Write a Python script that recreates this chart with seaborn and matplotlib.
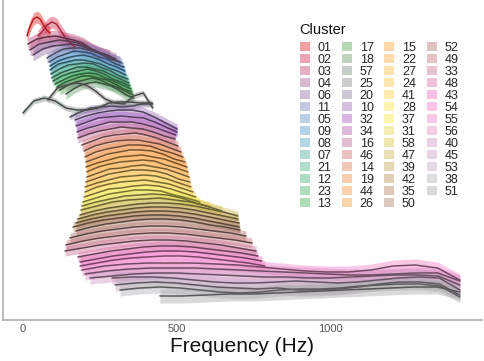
import numpy as np
import pandas as pd
import matplotlib
matplotlib.use("Agg")
import matplotlib.pyplot as plt
import matplotlib.colors as mcolors
import seaborn as sns
from matplotlib.patches import Patch

clusters = ['01', '02', '03', '04', '06', '11', '05', '09', '08', '07', '21', '12', '23', '13',
            '17', '18', '57', '25', '20', '10', '32', '34', '16', '46', '14', '19', '44', '26',
            '15', '22', '27', '24', '41', '28', '37', '31', '58', '47', '39', '42', '35', '50',
            '52', '49', '33', '48', '43', '54', '55', '56', '40', '45', '53', '38', '51']

colors = ['#e41a1c', '#d42a4a', '#c04070', '#a65a8e', '#9068a4', '#7a7cb8', '#5f8ec8', '#4a98d0',
          '#4aa0c0', '#48aa9c', '#45ae84', '#42b070', '#40b060', '#42ae52', '#50a650', '#62986a',
          '#7a8a7a', '#888888', '#8c80a0', '#9668b4', '#a052c0', '#ac58b0', '#bc6090', '#d06c70',
          '#e07a56', '#ec8844', '#f6943a', '#fa9c30', '#fca43a', '#fcae42', '#fcba48', '#fcc444',
          '#fcd244', '#fce048', '#f8ee40', '#e4da48', '#d8c848', '#ccb44c', '#c0a050', '#b89054',
          '#b0825c', '#a87a64', '#b0726a', '#c07078', '#cc6e94', '#dc6ca8', '#ea6cbc', '#f878cc',
          '#f080c6', '#e088c0', '#d092c2', '#c89ac0', '#bca4bc', '#b0b0b6', '#a6a6a6']

# frequency range of each cluster (Hz)
f_start = [13, 49, 16, 23, 33, 78, 85, 88, 88, 91, 94, 98, 104, 111,
           120, 140, 0, 81, 153, 169, 173, 176, 179, 192, 199, 202, 205, 205,
           208, 208, 205, 202, 202, 199, 195, 192, 189, 186, 179, 173, 163, 173,
           153, 140, 137, 179, 186, 186, 192, 202, 218, 290, 300, 316, 446]
f_end = [88, 169, 283, 303, 316, 322, 329, 332, 335, 342, 345, 348, 352, 355,
         358, 361, 420, 423, 423, 502, 502, 498, 495, 505, 515, 521, 528, 534,
         537, 541, 544, 547, 554, 563, 576, 609, 648, 700, 700, 704, 704, 707,
         726, 746, 759, 765, 778, 788, 1423, 1423, 1423, 1423, 1423, 1423, 1423]
spread = [6, 6, 6, 6, 6, 5, 5, 5, 5, 5, 5, 5, 5, 5,
          5, 5, 3, 3, 3, 5, 5, 5, 5, 5, 5, 5, 5, 5,
          5, 5, 5, 5, 5, 5, 5, 5, 5, 5, 5, 5, 5, 5,
          5, 5, 5, 5, 5, 5, 6, 6, 6, 6, 6, 6, 7]

# mean level (stacked, arbitrary units) at evenly spaced frequencies
amp_01 = [284, 294, 301, 303, 301, 295, 290, 287]
amp_02 = [284, 289, 295, 298, 296, 289, 282, 277, 273]
amp_03 = [276, 281, 283, 284, 282, 280, 277, 271, 267, 264]
amp_04 = [270, 276, 278, 280, 279, 277, 273, 268, 265, 261]
amp_06 = [265, 271, 274, 275, 276, 274, 270, 266, 261, 258]
amp_11 = [262, 267, 271, 272, 272, 270, 268, 264, 261, 257]
amp_05 = [258, 263, 266, 269, 268, 267, 263, 261, 256, 253]
amp_09 = [254, 259, 262, 264, 265, 263, 260, 256, 253, 249]
amp_08 = [250, 256, 258, 260, 260, 258, 256, 252, 249, 245]
amp_07 = [246, 251, 255, 256, 257, 256, 252, 249, 244, 241]
amp_21 = [242, 247, 250, 253, 253, 251, 249, 245, 241, 237]
amp_12 = [239, 244, 247, 249, 251, 249, 246, 241, 238, 234]
amp_23 = [236, 240, 244, 246, 247, 246, 242, 239, 235, 231]
amp_13 = [233, 238, 241, 244, 244, 242, 240, 236, 231, 228]
amp_17 = [230, 235, 238, 240, 242, 240, 236, 233, 229, 225]
amp_18 = [226, 231, 235, 237, 238, 236, 234, 230, 225, 222]
amp_57 = [207, 219, 222, 219, 212, 210, 210, 212, 217, 218, 218, 217, 217]
amp_25 = [220, 232, 235, 237, 235, 229, 221, 217, 216, 224, 227, 212]
amp_20 = [203, 208, 212, 213, 214, 213, 214, 216, 216]
amp_10 = [200, 204, 207, 209, 210, 210, 208, 203, 197, 191]
amp_32 = [194, 198, 202, 203, 204, 203, 202, 198, 193, 188]
amp_34 = [188, 192, 195, 198, 198, 198, 196, 193, 189, 185]
amp_16 = [182, 186, 189, 191, 193, 192, 191, 188, 184, 181]
amp_46 = [175, 179, 183, 185, 186, 187, 185, 182, 178, 174]
amp_14 = [169, 174, 177, 179, 180, 180, 178, 176, 172, 168]
amp_19 = [163, 168, 171, 173, 175, 175, 174, 170, 167, 163]
amp_44 = [158, 162, 166, 168, 170, 170, 169, 166, 161, 158]
amp_26 = [153, 157, 160, 163, 164, 165, 163, 161, 157, 153]
amp_15 = [148, 153, 156, 158, 159, 160, 159, 155, 152, 148]
amp_22 = [143, 147, 151, 152, 154, 155, 153, 151, 147, 143]
amp_27 = [138, 142, 146, 148, 150, 150, 149, 146, 141, 138]
amp_24 = [133, 137, 140, 143, 144, 145, 144, 141, 137, 133]
amp_41 = [128, 133, 136, 138, 139, 140, 138, 136, 132, 128]
amp_28 = [123, 127, 131, 132, 134, 135, 134, 131, 127, 123]
amp_37 = [118, 122, 126, 128, 130, 130, 129, 125, 122, 118]
amp_31 = [114, 118, 121, 124, 125, 126, 125, 122, 117, 113]
amp_58 = [110, 114, 118, 120, 121, 122, 120, 118, 114, 109]
amp_47 = [105, 109, 112, 114, 116, 117, 117, 116, 114, 111, 108, 104]
amp_39 = [101, 105, 108, 110, 112, 113, 113, 112, 110, 107, 104, 101]
amp_42 = [97, 101, 104, 106, 108, 109, 109, 108, 106, 103, 100, 97]
amp_35 = [93, 97, 100, 102, 104, 105, 105, 104, 102, 99, 96, 93]
amp_50 = [89, 93, 96, 98, 100, 101, 101, 100, 98, 95, 93, 90]
amp_52 = [82, 86, 89, 91, 93, 94, 94, 93, 91, 89, 87, 84]
amp_49 = [75, 79, 82, 84, 86, 87, 87, 86, 84, 82, 80, 77]
amp_33 = [69, 72, 75, 77, 79, 80, 80, 79, 77, 75, 72, 69]
amp_48 = [63, 66, 69, 71, 73, 74, 74, 73, 71, 69, 67, 64]
amp_43 = [58, 61, 64, 66, 68, 69, 69, 68, 66, 64, 62, 59]
amp_54 = [54, 57, 60, 62, 63, 64, 64, 63, 61, 59, 57, 54]
amp_55 = [50, 54, 56, 57, 57, 57, 56, 55, 53, 51, 49, 48, 48, 50, 54, 55, 52, 40]
amp_56 = [46, 49, 51, 52, 52, 52, 51, 50, 49, 48, 47, 46, 45, 45, 46, 47, 47, 39]
amp_40 = [42, 44, 46, 47, 47, 46, 45, 44, 43, 43, 42, 42, 43, 44, 45, 45, 44, 35]
amp_45 = [42, 43, 43, 42, 40, 38, 37, 37, 38, 39, 38, 37, 38, 40, 42, 43, 42, 30]
amp_53 = [35, 37, 38, 37, 35, 33, 32, 31, 32, 30, 30, 31, 33, 36, 38, 38, 36, 25]
amp_38 = [30, 32, 33, 32, 30, 28, 27, 28, 30, 31, 31, 32, 34, 35, 36, 36, 34, 23]
amp_51 = [24, 24, 25, 26, 26, 27, 28, 29, 30, 31, 32, 33, 33, 28]

levels = [amp_01, amp_02, amp_03, amp_04, amp_06, amp_11, amp_05, amp_09, amp_08, amp_07,
          amp_21, amp_12, amp_23, amp_13, amp_17, amp_18, amp_57, amp_25, amp_20, amp_10,
          amp_32, amp_34, amp_16, amp_46, amp_14, amp_19, amp_44, amp_26, amp_15, amp_22,
          amp_27, amp_24, amp_41, amp_28, amp_37, amp_31, amp_58, amp_47, amp_39, amp_42,
          amp_35, amp_50, amp_52, amp_49, amp_33, amp_48, amp_43, amp_54, amp_55, amp_56,
          amp_40, amp_45, amp_53, amp_38, amp_51]

xticks = [0, 500, 1000]

# ---------------------------------------------------------------
sns.set_style("white")
plt.rcParams['font.family'] = ['Liberation Sans', 'DejaVu Sans']

rows = []
for cid, fs, fe, lv, sd in zip(clusters, f_start, f_end, levels, spread):
    freqs = np.linspace(fs, fe, len(lv))
    for f, a in zip(freqs, lv):
        rows.append({'cluster': cid, 'freq': f, 'amp': a, 'lo': a - sd, 'hi': a + sd})
df = pd.DataFrame(rows)

line_cols = {}
for cid, c in zip(clusters, colors):
    rgb = np.array(mcolors.to_rgb(c))
    mix = 0.75 if cid in ('01', '02') else 0.38
    line_cols[cid] = tuple(rgb * mix + np.array([0.16, 0.16, 0.16]) * (1 - mix))

fig = plt.figure(figsize=(4.84, 3.61), dpi=100)
ax = fig.add_axes([3 / 484, 41 / 361, 479 / 484, 320 / 361])

for cid, c in zip(clusters, colors):
    sub = df[df['cluster'] == cid]
    ax.fill_between(sub['freq'], sub['lo'], sub['hi'], color=c, alpha=0.42, lw=0)

sns.lineplot(data=df, x='freq', y='amp', hue='cluster', hue_order=clusters,
             palette=line_cols, estimator=None, sort=False, legend=False,
             linewidth=1.1, ax=ax)

ax.set_xlim(-65, 1495)
ax.set_ylim(0, 320)
ax.set_xticks(xticks)
ax.set_xticklabels([str(t) for t in xticks], fontsize=8, color='#555555')
ax.set_yticks([])
ax.tick_params(axis='x', length=0, pad=3)
ax.set_xlabel('Frequency (Hz)', fontsize=15, labelpad=2, color='#111111')
ax.set_ylabel('')
for s in ['top', 'right']:
    ax.spines[s].set_visible(False)
for s in ['left', 'bottom']:
    ax.spines[s].set_color('#b0b0b0')
    ax.spines[s].set_linewidth(1.2)

handles = [Patch(facecolor=c, alpha=0.42, edgecolor='none') for c in colors]
leg = ax.legend(handles, clusters, ncol=4, loc='upper left',
                bbox_to_anchor=(0.619, 0.868), frameon=False, fontsize=9,
                handlelength=0.8, handleheight=0.7,
                handletextpad=0.62, columnspacing=0.85, labelspacing=0.0,
                borderpad=0, borderaxespad=0)
ax.text(0.619, 0.906, 'Cluster', transform=ax.transAxes, fontsize=10.5,
        ha='left', va='center', color='#111111')

fig.savefig('out.png', dpi=100)
